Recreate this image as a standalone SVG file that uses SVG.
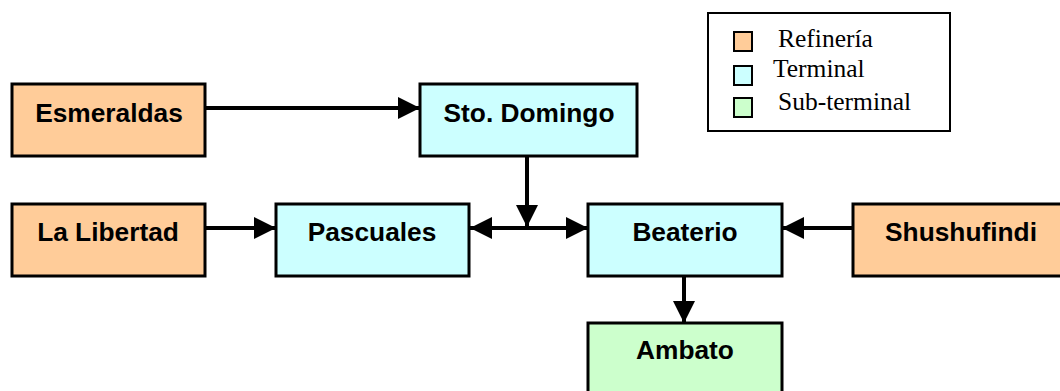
<svg xmlns="http://www.w3.org/2000/svg" width="1060" height="391" viewBox="0 0 1060 391">
  <style>
    .box { stroke: #000; stroke-width: 3; }
    .ref { fill: #FFCC99; }
    .term { fill: #CCFFFF; }
    .sub { fill: #CCFFCC; }
    .lbl { font-family: "Liberation Sans", Arial, sans-serif; font-weight: bold; font-size: 26.3px; text-anchor: middle; fill: #000; }
    .leg { font-family: "Liberation Serif", "Times New Roman", serif; font-size: 25.5px; fill: #000; }
    .conn { stroke: #000; stroke-width: 4; fill: none; }
  </style>
  <defs>
    <marker id="arrow" viewBox="0 0 22 22" refX="22" refY="11" markerWidth="22" markerHeight="22" markerUnits="userSpaceOnUse" orient="auto-start-reverse">
      <path d="M0,0 L22,11 L0,22 z" fill="#000"/>
    </marker>
  </defs>

  <rect width="1060" height="391" fill="#fff"/>

  <!-- Legend -->
  <g id="legend">
    <rect x="708" y="13" width="242" height="118" fill="#fff" stroke="#000" stroke-width="2"/>
    <rect x="734" y="32" width="18" height="19" class="ref" stroke="#000" stroke-width="2"/>
    <rect x="734" y="66" width="18" height="19" class="term" stroke="#000" stroke-width="2"/>
    <rect x="734" y="98" width="18" height="19" class="sub" stroke="#000" stroke-width="2"/>
    <text class="leg" x="778" y="47">Refinería</text>
    <text class="leg" x="773" y="77">Terminal</text>
    <text class="leg" x="778" y="110">Sub-terminal</text>
  </g>

  <!-- Connectors -->
  <g id="connectors">
    <line class="conn" x1="205" y1="108" x2="420" y2="108" marker-end="url(#arrow)"/>
    <line class="conn" x1="205" y1="228" x2="276" y2="228" marker-end="url(#arrow)"/>
    <line class="conn" x1="527" y1="156" x2="527" y2="227" marker-end="url(#arrow)"/>
    <line class="conn" x1="470" y1="228" x2="588" y2="228" marker-start="url(#arrow)" marker-end="url(#arrow)"/>
    <line class="conn" x1="853" y1="228" x2="782" y2="228" marker-end="url(#arrow)"/>
    <line class="conn" x1="684" y1="277" x2="684" y2="323" marker-end="url(#arrow)"/>
  </g>

  <!-- Nodes -->
  <g id="esmeraldas">
    <rect class="box ref" x="12" y="84" width="193" height="72"/>
    <text class="lbl" x="109" y="122">Esmeraldas</text>
  </g>
  <g id="sto-domingo">
    <rect class="box term" x="420" y="84" width="217" height="72"/>
    <text class="lbl" x="529" y="122">Sto. Domingo</text>
  </g>
  <g id="la-libertad">
    <rect class="box ref" x="12" y="204" width="193" height="72"/>
    <text class="lbl" x="108" y="241">La Libertad</text>
  </g>
  <g id="pascuales">
    <rect class="box term" x="276" y="204" width="193" height="72"/>
    <text class="lbl" x="372" y="241">Pascuales</text>
  </g>
  <g id="beaterio">
    <rect class="box term" x="588" y="204" width="194" height="72"/>
    <text class="lbl" x="685" y="241">Beaterio</text>
  </g>
  <g id="shushufindi">
    <rect class="box ref" x="853" y="204" width="220" height="72"/>
    <text class="lbl" x="961" y="241">Shushufindi</text>
  </g>
  <g id="ambato">
    <rect class="box sub" x="588" y="323" width="194" height="80"/>
    <text class="lbl" x="685" y="359">Ambato</text>
  </g>
</svg>
